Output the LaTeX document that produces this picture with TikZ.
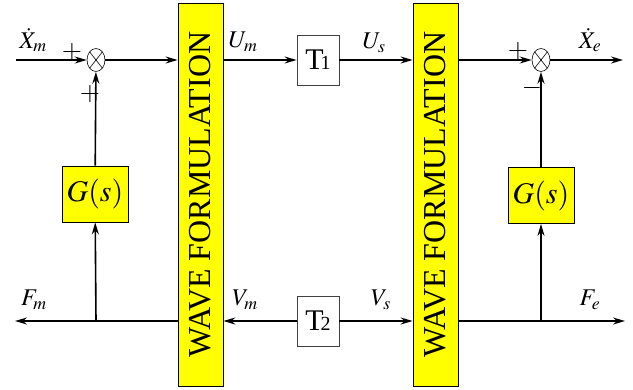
\documentclass[tikz,border=0pt]{standalone}
\usepackage{mathptmx}
\usepackage{fontspec}
\setmainfont{Liberation Serif}
\usepackage{graphicx}
\usepackage{tikz}
\usetikzlibrary{arrows.meta,shapes.geometric}
\definecolor{blockyellow}{HTML}{FFFF00}

\begin{document}
\begin{tikzpicture}[x=1pt,y=-1pt,
    arr/.style={-{Stealth[length=12pt,width=7pt,inset=4pt]},line width=1.6pt},
    wavebox/.style={draw,fill=blockyellow,line width=0.8pt,minimum width=45pt,minimum height=383pt,inner sep=0pt,font=\fontsize{32}{32}\selectfont},
    gbox/.style={draw,fill=blockyellow,line width=0.8pt,minimum width=66pt,minimum height=56pt,inner sep=0pt,font=\fontsize{30}{30}\selectfont},
    tbox/.style={draw=black!75,fill=white,line width=0.8pt,minimum width=42pt,minimum height=50pt,inner sep=0pt},
    sumnode/.style={draw,ellipse,fill=white,line width=0.6pt,minimum width=18pt,minimum height=23pt,inner sep=0pt,
      path picture={\draw[line width=0.6pt] (path picture bounding box.north west) -- (path picture bounding box.south east)
        (path picture bounding box.north east) -- (path picture bounding box.south west);}},
    lbl/.style={inner sep=0pt,font=\fontsize{24}{24}\selectfont},
    sgn/.style={inner sep=0pt,font=\fontsize{26}{26}\selectfont}]
  \useasboundingbox (0,0) rectangle (633,389);

  % blocks
  \node[wavebox] (waveL) at (200.5,194.5) {\rotatebox{90}{WAVE FORMULATION}};
  \node[wavebox] (waveR) at (435.5,194.5) {\rotatebox{90}{WAVE FORMULATION}};
  \node[tbox] (T1) at (318,60) {\fontsize{30}{30}\selectfont T\kern-3pt{\fontsize{20}{20}\selectfont 1}};
  \node[tbox] (T2) at (318,321) {\fontsize{30}{30}\selectfont T\kern-3pt{\fontsize{20}{20}\selectfont 2}};
  \node[gbox] (GL) at (95,194) {$G(s)$};
  \node[gbox] (GR) at (541,195.5) {$G(s)$};
  \node[sumnode] (sumL) at (96,60) {};
  \node[sumnode] (sumR) at (541,60) {};

  % free ends
  \coordinate (inXm) at (16,60);
  \coordinate (outXe) at (623,60);
  \coordinate (outFm) at (15,321);
  \coordinate (outFe) at (625,321);
  \coordinate (jL) at (96,321);
  \coordinate (jR) at (541,321);

  % upper path
  \draw[arr] (inXm) -- (sumL);
  \draw[arr] (sumL) -- (sumL -| waveL.west);
  \draw[arr] (T1 -| waveL.east) -- (T1);
  \draw[arr] (T1) -- (T1 -| waveR.west);
  \draw[arr] (sumR -| waveR.east) -- (sumR);
  \draw[arr] (sumR) -- (outXe);

  % lower path
  \draw[arr] (jL -| waveL.west) -- (outFm);
  \draw[arr] (T2) -- (T2 -| waveL.east);
  \draw[arr] (T2) -- (T2 -| waveR.west);
  \draw[arr] (jR -| waveR.east) -- (outFe);

  % feedback
  \draw[arr] (jL) -- (GL);
  \draw[arr] (GL) -- (sumL);
  \draw[arr] (jR) -- (GR);
  \draw[arr] (GR) -- (sumR);

  % labels
  \node[lbl] (lXm) at (33,40) {$\dot{X}_m$};
  \node[lbl] (lUm) at (243,42) {$U_m$};
  \node[lbl] (lUs) at (374,43) {$U_s$};
  \node[lbl] (lXe) at (590,40) {$\dot{X}_e$};
  \node[lbl] (lFm) at (34,300) {$F_m$};
  \node[lbl] (lVm) at (245,300) {$V_m$};
  \node[lbl] (lVs) at (381,300) {$V_s$};
  \node[lbl] (lFe) at (590,300) {$F_e$};
  \node[sgn] (pL1) at (72,52) {$+$};
  \node[sgn] (pL2) at (90,94) {$+$};
  \node[sgn] (pR1) at (518,51) {$+$};
  \node[sgn] (mR) at (532,88) {$-$};
\end{tikzpicture}
\end{document}
